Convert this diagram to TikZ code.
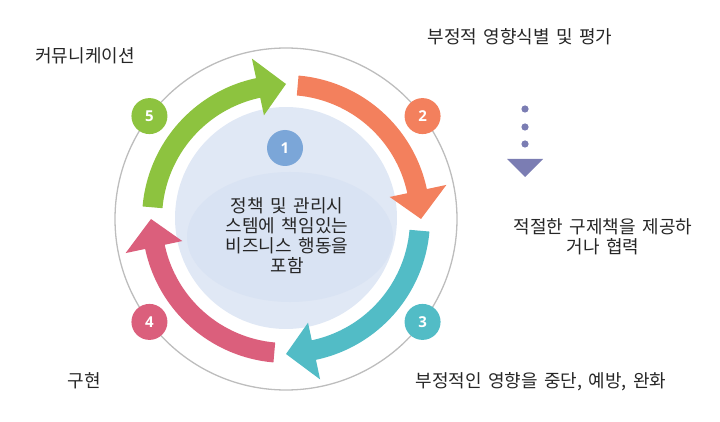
\documentclass[tikz,border=0pt]{standalone}
\usepackage{fontspec}
\setmainfont[WordSpace=1.6]{Noto Sans CJK KR}
\newfontfamily\numfont{Open Sans}
\usepackage{xcolor}
\usepackage{tikz}
\usetikzlibrary{positioning,calc}

\definecolor{flowgreen}{HTML}{8DC33F}
\definecolor{floworange}{HTML}{F3805D}
\definecolor{flowteal}{HTML}{52BCC6}
\definecolor{flowred}{HTML}{DB5F7C}
\definecolor{badgeblue}{HTML}{7BA6D8}
\definecolor{discblue}{HTML}{E0E8F5}
\definecolor{discshade}{HTML}{D9E3F3}
\definecolor{ringgray}{HTML}{BDBDBD}
\definecolor{dotpurple}{HTML}{7B7DB3}
\definecolor{textgray}{HTML}{262626}

\begin{document}
\begin{tikzpicture}[
	x=1pt, y=1pt,
	badge/.style={
		circle,
		minimum size=36pt,
		inner sep=0pt,
		text=white,
		font=\numfont\bfseries\fontsize{15}{15}\selectfont
	},
	steptext/.style={
		font=\fontsize{18}{20}\selectfont,
		text=textgray,
		align=center,
		inner sep=0pt
	}
	]
	
	\useasboundingbox (0,0) rectangle (720,-422);
	
	% ring and centre disc
	\coordinate (C) at (286,-219);
	\draw[ringgray, line width=1.3pt] (C) circle[radius=171];
	\fill[discblue] (286,-218) circle[radius=111];
	\fill[discshade] (290,-237) ellipse[x radius=103, y radius=65];
	
	% cycle arrows
	\begin{scope}[shift={(C)}]
		\foreach \s/\col in {175/flowgreen, 85/floworange, -5/flowteal, -95/flowred}{
			\pgfmathsetmacro\b{\s-73}
			\pgfmathsetmacro\t{\s-85}
			\fill[\col] (\s:144) arc[start angle=\s, end angle=\b, radius=144]
				-- (\b:164) -- (\t:135) -- (\b:106) -- (\b:124)
				arc[start angle=\b, end angle=\s, radius=124] -- cycle;
		}
	\end{scope}
	
	% numbered badges
	\node[badge, fill=badgeblue] (b1) at (285,-148) {1};
	\node[badge, fill=floworange] (b2) at ($(C)+(37:171)$) {2};
	\node[badge, fill=flowteal] (b3) at ($(C)+(-37:171)$) {3};
	\node[badge, fill=flowred] (b4) at ($(C)+(217:171)$) {4};
	\node[badge, fill=flowgreen] (b5) at ($(C)+(143:171)$) {5};
	
	% texts
	\node[steptext] (t1) at (287,-235.5) {정책 및 관리시\\스템에 책임있는\\비즈니스 행동을\\포함};
	\node[steptext] (t2) at (520,-37) {부정적 영향식별 및 평가};
	\node[steptext] (t2b) at (603,-237) {적절한 구제책을 제공하\\거나 협력};
	\node[steptext] (t3) at (541,-382) {부정적인 영향을 중단, 예방, 완화};
	\node[steptext] (t4) at (84,-381) {구현};
	\node[steptext] (t5) at (85,-56) {커뮤니케이션};
	
	% dotted pointer
	\foreach \y in {109,127,144}
		\fill[dotpurple] (525,-\y) circle[radius=3.6];
	\fill[dotpurple] (507,-159) -- (543,-159) -- (525,-177) -- cycle;
	
\end{tikzpicture}
\end{document}
